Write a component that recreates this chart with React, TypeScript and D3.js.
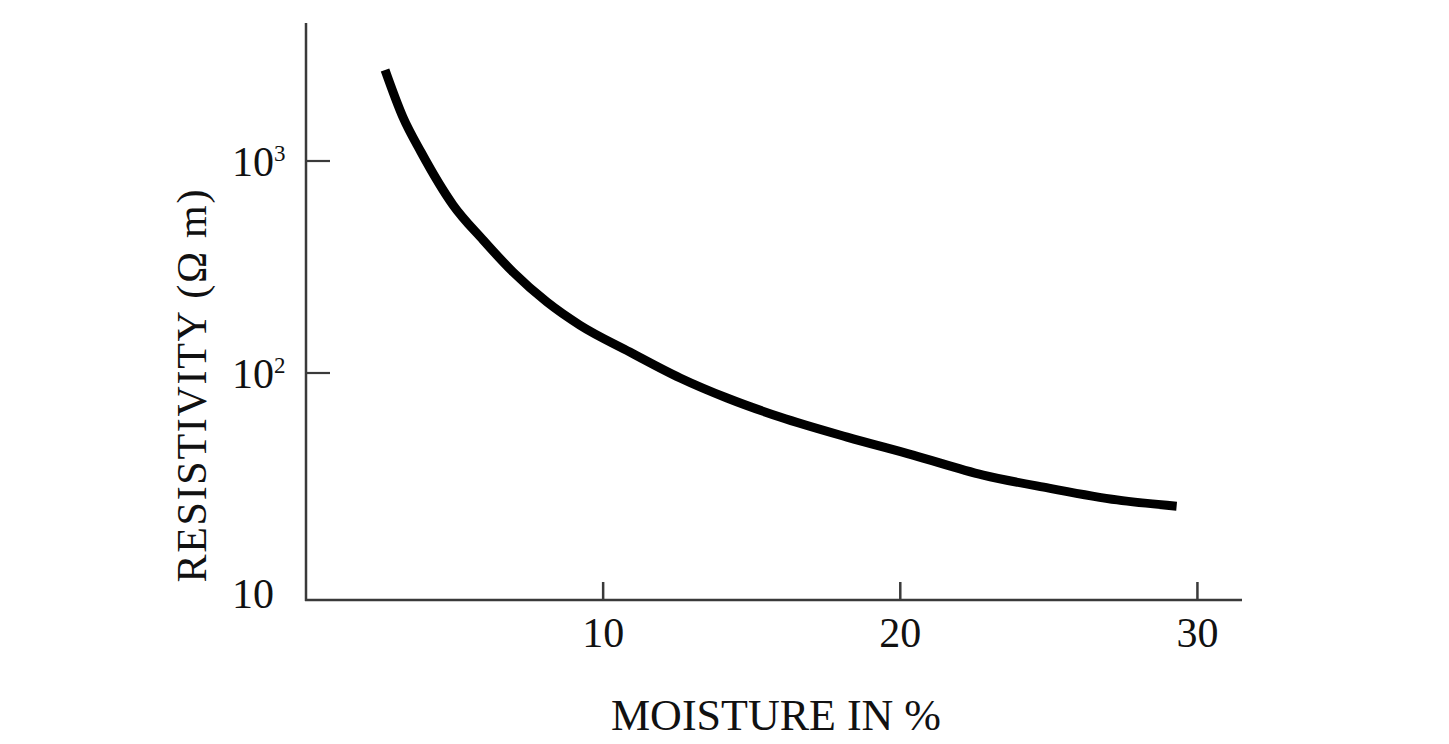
import React from "react";
import * as d3 from "d3";

const moisture = [2.66, 3.26, 3.87, 4.95, 5.96, 6.97, 8.11, 9.22, 10.9, 12.59, 14.17, 15.95, 18.21, 20.43, 22.79, 25.0, 27.3, 29.3];
const resistivity = [2687, 1613, 1103, 620, 424, 299, 216, 168, 125.6, 95.1, 77.6, 64.0, 52.2, 43.5, 35.5, 31.1, 27.6, 25.9];
const xTicks = [10, 20, 30];
const yTicks = [10, 100, 1000];
const yTickExp = ["", "2", "3"];
const xTitle = "MOISTURE IN %";
const yTitle = "RESISTIVITY (Ω m)";

const W = 1449;
const H = 744;

export default function App() {
  const x = d3.scaleLinear().domain([0, 31.5]).range([306, 1242]);
  const y = d3.scaleLog().domain([10, 100, 1000, 4477]).range([600, 373, 161, 23]);
  const pts: [number, number][] = moisture.map((m, i) => [m, resistivity[i]]);
  const line = d3
    .line<[number, number]>()
    .x((d) => x(d[0]))
    .y((d) => y(d[1]))
    .curve(d3.curveMonotoneX);
  const font = "'Liberation Serif', 'Times New Roman', serif";
  const axisColor = "#3a3a3a";
  return (
    <svg width={W} height={H} style={{ position: "absolute", left: 0, top: 0, background: "#fff" }} fontFamily={font}>
      <rect x={0} y={0} width={W} height={H} fill="#fff" />
      <line x1={x(0)} x2={x(0)} y1={y(4477)} y2={y(10) + 1} stroke={axisColor} strokeWidth={2.5} />
      <line x1={x(0) - 1} x2={x(31.5)} y1={y(10)} y2={y(10)} stroke={axisColor} strokeWidth={2.5} />
      {xTicks.map((t) => (
        <g key={"x" + t}>
          <line x1={x(t)} x2={x(t)} y1={y(10)} y2={y(10) - 18} stroke={axisColor} strokeWidth={2.5} />
          <text x={x(t)} y={647} fontSize={42} textAnchor="middle" fill="#111">
            {t}
          </text>
        </g>
      ))}
      {yTicks.map((t, i) => (
        <g key={"y" + t}>
          {i > 0 && <line x1={x(0)} x2={x(0) + 24} y1={y(t)} y2={y(t)} stroke={axisColor} strokeWidth={2.2} />}
          <text x={232} y={y(t) + (i === 0 ? 8 : 15)} fontSize={42} fill="#111">
            10
            {yTickExp[i] && (
              <tspan fontSize={23} dy={-15}>
                {yTickExp[i]}
              </tspan>
            )}
          </text>
        </g>
      ))}
      <path d={line(pts) || ""} fill="none" stroke="#000" strokeWidth={9} strokeLinecap="butt" />
      <text x={776} y={730} fontSize={44} textAnchor="middle" fill="#111">
        {xTitle}
      </text>
      <text
        transform={`translate(206, 386) rotate(-90)`}
        fontSize={42}
        textAnchor="middle"
        fill="#111"
        textLength={393}
        lengthAdjust="spacing"
      >
        {yTitle}
      </text>
    </svg>
  );
}
